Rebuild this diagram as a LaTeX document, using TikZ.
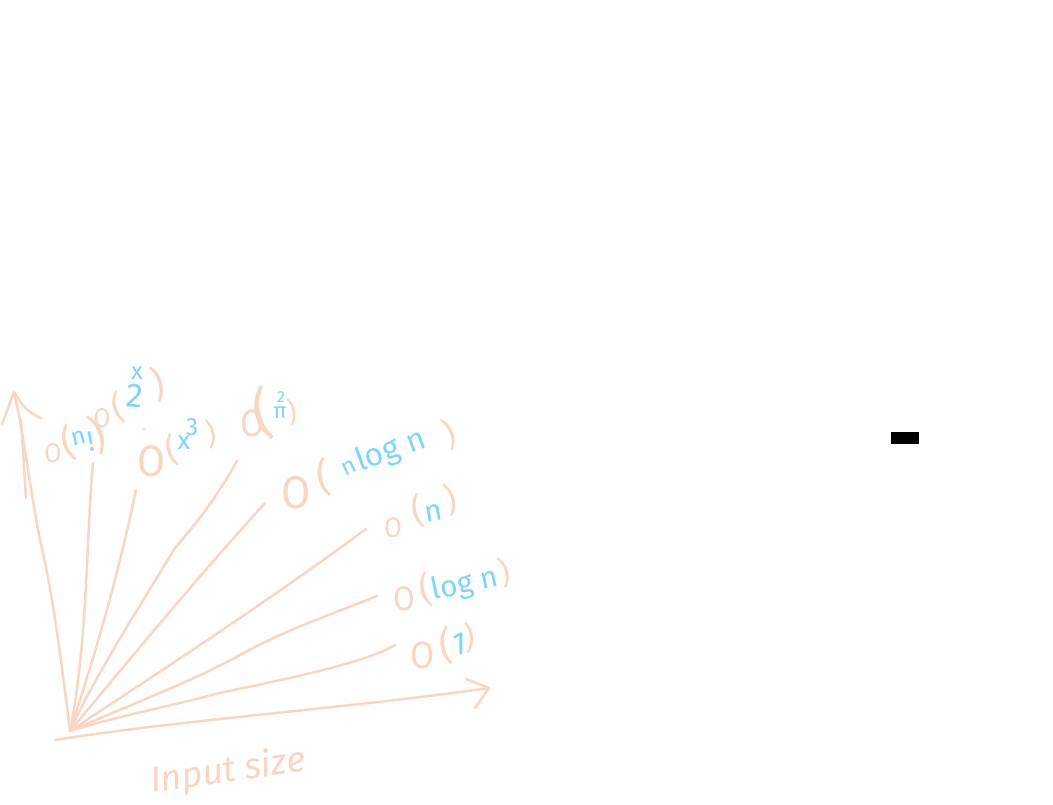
\documentclass[tikz,border=0pt]{standalone}
\usepackage{fontspec}
\setmainfont{Fira Sans}
\definecolor{peach}{HTML}{F8D6C4}
\definecolor{skyb}{HTML}{7FD4FC}
\begin{document}
\begin{tikzpicture}[
        x=1pt, y=-1pt,
        curve/.style={draw=peach, line width=2.5pt, line cap=round, line join=round},
        bigo/.style={text=peach, inner sep=0pt, xscale=.92, font=\fontsize{#1}{#1}\selectfont},
        paren/.style={text=peach, inner sep=0pt, font=\fontsize{#1}{#1}\selectfont},
        expr/.style={text=skyb, inner sep=0pt, font=\fontsize{#1}{#1}\selectfont},
    ]
    \useasboundingbox (0,0) rectangle (1053,805);
    \coordinate (origin) at (70,731);
    \coordinate (ytip) at (14,392);
    \coordinate (ymid) at (40,540);
    \coordinate (yleft) at (2,424);
    \coordinate (yright) at (41,418);
    \coordinate (ytop) at (21,420);
    \coordinate (ybot) at (26,498);
    \coordinate (xstart) at (55,740);
    \coordinate (xtip) at (489,688);
    \coordinate (xup) at (466,679);
    \coordinate (xdown) at (475,708);
    \coordinate (endfact) at (93,463);
    \coordinate (endexp) at (136,490);
    \coordinate (cubemid) at (175,548);
    \coordinate (endcube) at (237,461);
    \coordinate (endsq) at (265,503);
    \coordinate (endnlog) at (366,529);
    \coordinate (logmid) at (240,655);
    \coordinate (endlog) at (377,596);
    \coordinate (onemid) at (220,693);
    \coordinate (endone) at (395,645);
    % axes
    \draw[curve] (origin) .. controls (60,650) and (52,590) .. (ymid) .. controls (30,490) and (25,440) .. (ytip);
    \draw[curve] (yleft) .. controls (6,415) and (10,402) .. (ytip) .. controls (22,405) and (28,413) .. (yright);
    \draw[curve] (ytop) -- (ybot);
    \draw[curve] (xstart) .. controls (180,720) and (350,708) .. (xtip);
    \draw[curve] (xup) -- (xtip) -- (xdown);
    % growth curves
    \draw[curve] (origin) .. controls (88,640) and (86,540) .. (endfact);
    \draw[curve] (origin) .. controls (90,670) and (115,590) .. (endexp);
    \draw[curve] (origin) .. controls (95,675) and (150,590) .. (cubemid) .. controls (195,525) and (215,500) .. (endcube);
    \draw[curve] (origin) .. controls (125,665) and (195,580) .. (endsq);
    \draw[curve] (origin) .. controls (170,665) and (270,600) .. (endnlog);
    \draw[curve] (origin) .. controls (130,705) and (195,680) .. (logmid) .. controls (285,630) and (330,615) .. (endlog);
    \draw[curve] (origin) .. controls (110,718) and (175,705) .. (onemid) .. controls (280,680) and (360,665) .. (endone);
    % labels
    \node[bigo=27] (ofact) at (53,453) {O};
    \node[paren=38, rotate=15] (lfact) at (68,443) {(};
    \node[expr=25, rotate=15] (nfact) at (79,438) {n};
    \node[expr=28, rotate=10] (bang) at (91,442) {!};
    \node[paren=42, rotate=20] (rfact) at (98,434) {)};
    \node[bigo=27] (oexp) at (102,418) {O};
    \node[paren=34, rotate=15] (lexp) at (118,408) {(};
    \node[expr=34, rotate=-5] (two) at (135,396) {2};
    \node[expr=24] (xexp) at (137,373) {x};
    \node[paren=38, rotate=15] (rexp) at (158,384) {)};
    \node[bigo=44] (ocube) at (152,461) {O};
    \node[paren=34, rotate=15] (lcube) at (172,451) {(};
    \node[expr=26] (xcube) at (184,443) {x};
    \node[expr=25] (thrcube) at (192,427) {3};
    \node[paren=30, rotate=10] (rcube) at (211,434) {)};
    \node[bigo=38] (osq) at (253,423) {O};
    \node[paren=56, rotate=12] (lsq) at (262,413) {(};
    \node[expr=22] (pisq) at (280,413) {π};
    \node[expr=16] (twosq) at (281,397) {2};
    \node[paren=28, rotate=10] (rsq) at (292,412) {)};
    \node[bigo=46] (onlog) at (296,493) {O};
    \node[paren=40, rotate=10] (lnlog) at (323,478) {(};
    \node[expr=24, rotate=25] (nnlog) at (349,468) {n};
    \node[expr=32, rotate=20] (lognlog) at (391,451) {log n};
    \node[paren=34, rotate=20] (rnlog) at (450,434) {)};
    \node[bigo=28] (on) at (393,528) {O};
    \node[paren=36, rotate=12] (ln) at (418,511) {(};
    \node[expr=30, rotate=10] (nn) at (434,513) {n};
    \node[paren=34, rotate=15] (rn) at (451,500) {)};
    \node[bigo=34, rotate=5] (olog) at (404,599) {O};
    \node[paren=36, rotate=12] (llog) at (426,590) {(};
    \node[expr=30, rotate=12] (logn) at (465,585) {log n};
    \node[paren=32, rotate=15] (rlog) at (505,572) {)};
    \node[bigo=38] (oone) at (423,655) {O};
    \node[paren=40, rotate=8] (lone) at (446,646) {(};
    \node[expr=32] (one) at (459,644) {1};
    \node[paren=32, rotate=5] (rone) at (470,638) {)};
    \node[text=peach, inner sep=0pt, font=\fontsize{36}{36}\selectfont\itshape, rotate=8] (inlabel) at (228,772) {Input size};
    % stray marks
    \fill[orange!70] (144,429) circle (0.8pt);
    \node[fill=black, minimum width=28pt, minimum height=12pt, inner sep=0pt] (blob) at (905,438) {};
    \end{tikzpicture}
\end{document}
